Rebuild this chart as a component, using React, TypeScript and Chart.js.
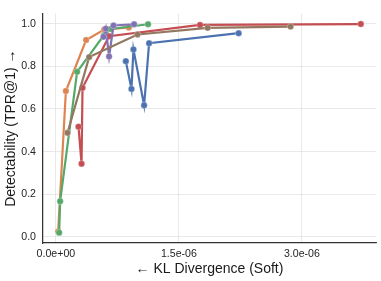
import React, { useEffect, useRef } from "react";
import { Chart, registerables } from "chart.js";

Chart.register(...registerables);

const seriesNames = ["blue", "orange", "green", "red", "purple", "brown"];
const seriesColors = ["#4C72B0", "#DD8452", "#55A868", "#C44E52", "#8172B3", "#937860"];

const blueX = [0.853e-6, 0.922e-6, 0.946e-6, 1.076e-6, 1.137e-6, 2.229e-6];
const blueY = [0.824, 0.694, 0.879, 0.617, 0.908, 0.955];
const orangeX = [0.028e-6, 0.122e-6, 0.369e-6, 0.59e-6, 0.889e-6];
const orangeY = [0.026, 0.684, 0.923, 0.972, 0.982];
const greenX = [0.04e-6, 0.052e-6, 0.259e-6, 0.585e-6, 0.67e-6, 1.124e-6];
const greenY = [0.02, 0.167, 0.774, 0.945, 0.975, 0.997];
const redX = [0.276e-6, 0.313e-6, 0.325e-6, 0.649e-6, 1.758e-6, 3.719e-6];
const redY = [0.517, 0.343, 0.699, 0.941, 0.994, 0.998];
const purpleX = [0.581e-6, 0.609e-6, 0.649e-6, 0.703e-6, 0.954e-6];
const purpleY = [0.938, 0.976, 0.846, 0.991, 0.997];
const brownX = [0.142e-6, 0.406e-6, 0.995e-6, 1.851e-6, 2.862e-6];
const brownY = [0.488, 0.843, 0.949, 0.98, 0.986];

const xTicks = [0, 1.5e-6, 3.0e-6];
const yTicks = [0, 0.2, 0.4, 0.6, 0.8, 1.0];
const xTitle = "← KL Divergence (Soft)";
const yTitle = "Detectability (TPR@1) →";

const allX = [blueX, orangeX, greenX, redX, purpleX, brownX];
const allY = [blueY, orangeY, greenY, redY, purpleY, brownY];

function fmtSci(v: number): string {
  const s = v.toExponential(1);
  const [m, e] = s.split("e");
  const sign = e[0] === "-" ? "-" : "+";
  const digits = e.replace(/[+-]/, "").padStart(2, "0");
  return `${m}e${sign}${digits}`;
}

export default function App() {
  const ref = useRef<HTMLCanvasElement | null>(null);
  useEffect(() => {
    document.body.style.margin = "0";
    const font = "'Liberation Sans', Arial, sans-serif";
    const datasets = seriesNames.map((name, i) => ({
      label: name,
      data: allX[i].map((x, j) => ({ x, y: allY[i][j] })),
      borderColor: seriesColors[i],
      backgroundColor: seriesColors[i],
      pointBackgroundColor: seriesColors[i],
      pointBorderColor: "rgba(255,255,255,0.6)",
      pointBorderWidth: 0.5,
      pointRadius: 3.2,
      borderWidth: 2.2,
      tension: 0,
      order: seriesNames.length - i,
    }));
    const chart = new Chart(ref.current!, {
      type: "line",
      data: { datasets },
      options: {
        animation: false,
        responsive: false,
        devicePixelRatio: 1,
        layout: { padding: { top: 5, right: 5, left: 0, bottom: 0 } },
        plugins: { legend: { display: false }, tooltip: { enabled: false } },
        scales: {
          x: {
            type: "linear",
            min: -0.157e-6,
            max: 3.904e-6,
            afterBuildTicks: (s: any) => {
              s.ticks = xTicks.map((v) => ({ value: v }));
            },
            afterFit: (s: any) => {
              s.height = 38;
            },
            ticks: {
              callback: (v: any) => fmtSci(Number(v)),
              color: "#262626",
              font: { family: font, size: 10.6 },
              padding: 5,
              maxRotation: 0,
            },
            grid: { color: "#e3e3e3", lineWidth: 0.8, drawTicks: false },
            border: { color: "#333333", width: 1.25 },
            title: {
              display: true,
              text: xTitle,
              color: "#1a1a1a",
              font: { family: font, size: 14 },
              padding: { top: 2, bottom: 3 },
            },
          },
          y: {
            type: "linear",
            min: -0.0285,
            max: 1.048,
            afterBuildTicks: (s: any) => {
              s.ticks = yTicks.map((v) => ({ value: v }));
            },
            afterFit: (s: any) => {
              s.width = 43;
            },
            ticks: {
              callback: (v: any) => Number(v).toFixed(1),
              color: "#262626",
              font: { family: font, size: 10.6 },
              padding: 7,
            },
            grid: { color: "#e3e3e3", lineWidth: 0.8, drawTicks: false },
            border: { color: "#333333", width: 1.25 },
            title: {
              display: true,
              text: yTitle,
              color: "#1a1a1a",
              font: { family: font, size: 14 },
              padding: { top: 3, bottom: 2 },
            },
          },
        },
      },
    });
    return () => chart.destroy();
  }, []);
  return (
    <div style={{ width: 381, height: 281 }}>
      <canvas ref={ref} width={381} height={281} style={{ display: "block" }} />
    </div>
  );
}
